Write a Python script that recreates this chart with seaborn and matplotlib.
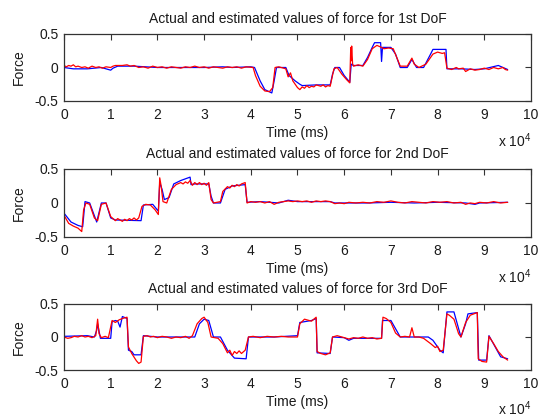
import matplotlib
matplotlib.use("Agg")
import matplotlib.pyplot as plt
import seaborn as sns

# (time in units of 10^4 ms, force) samples for each degree of freedom
dof1_actual = [(0, 0.0), (0.2, -0.02), (0.5, -0.02), (0.8, 0.0), (0.95, -0.03), (1.0, -0.04),
               (1.05, -0.01), (1.15, 0.02), (1.5, 0.02), (2.0, 0.0), (2.5, 0.0), (3.0, 0.0),
               (3.4, 0.01), (3.6, 0.0), (4.0, 0.01), (4.08, 0.0), (4.2, -0.2), (4.3, -0.33),
               (4.45, -0.38), (4.5, -0.2), (4.55, 0.0), (4.75, 0.0), (4.82, -0.12), (4.95, -0.2),
               (5.05, -0.25), (5.1, -0.27), (5.4, -0.26), (5.7, -0.26), (5.75, -0.1), (5.8, 0.0),
               (5.9, 0.0), (6.0, -0.12), (6.12, -0.22), (6.15, 0.05), (6.2, 0.03), (6.4, 0.03),
               (6.5, 0.15), (6.6, 0.3), (6.65, 0.37), (6.78, 0.37), (6.8, 0.09), (6.82, 0.3),
               (6.88, 0.3), (7.0, 0.3), (7.1, 0.2), (7.2, 0.0), (7.35, 0.0), (7.45, 0.12),
               (7.55, 0.0), (7.7, 0.0), (7.85, 0.2), (7.9, 0.27), (8.18, 0.27), (8.2, -0.02),
               (8.5, -0.02), (8.8, -0.03), (9.0, -0.02), (9.3, 0.03), (9.4, 0.0), (9.5, -0.03)]
dof1_estimated = [(0, 0.03), (0.05, 0.01), (0.1, 0.03), (0.15, 0.02), (0.2, 0.04), (0.25, 0.01),
                  (0.3, 0.02), (0.38, 0.0), (0.45, 0.01), (0.52, -0.01), (0.6, 0.02), (0.68, 0.0),
                  (0.75, 0.01), (0.82, -0.01), (0.9, 0.01), (1.0, 0.0), (1.05, 0.02), (1.1, 0.03),
                  (1.25, 0.03), (1.35, 0.04), (1.42, 0.02), (1.5, 0.03), (1.6, 0.0), (1.7, 0.01),
                  (1.8, -0.01), (1.9, 0.02), (2.0, 0.0), (2.1, 0.01), (2.2, -0.01), (2.3, 0.01),
                  (2.4, 0.0), (2.5, -0.01), (2.6, 0.01), (2.7, 0.0), (2.8, 0.02), (2.9, 0.0),
                  (3.0, 0.01), (3.1, -0.01), (3.2, 0.01), (3.3, 0.0), (3.4, -0.01), (3.5, 0.01),
                  (3.6, 0.0), (3.7, 0.01), (3.8, -0.01), (3.9, 0.01), (4.05, 0.0), (4.1, -0.12),
                  (4.2, -0.28), (4.3, -0.35), (4.4, -0.36), (4.47, -0.3), (4.52, 0.0), (4.6, 0.01),
                  (4.75, -0.02), (4.8, -0.14), (4.85, -0.08), (4.9, -0.2), (5.0, -0.3), (5.05, -0.33),
                  (5.1, -0.29), (5.15, -0.31), (5.2, -0.27), (5.25, -0.3), (5.3, -0.28), (5.35, -0.29),
                  (5.4, -0.26), (5.5, -0.28), (5.55, -0.26), (5.6, -0.29), (5.65, -0.27), (5.7, -0.28),
                  (5.78, -0.02), (5.85, 0.0), (5.95, -0.1), (6.05, -0.18), (6.12, -0.23), (6.14, 0.3),
                  (6.15, 0.1), (6.16, 0.32), (6.18, 0.05), (6.2, 0.02), (6.3, 0.04), (6.4, 0.02),
                  (6.5, 0.12), (6.6, 0.28), (6.7, 0.33), (6.8, 0.3), (6.85, 0.28), (6.95, 0.29),
                  (7.05, 0.28), (7.2, 0.02), (7.35, 0.02), (7.45, 0.14), (7.5, 0.05), (7.6, 0.0),
                  (7.75, 0.05), (7.9, 0.2), (8.0, 0.23), (8.1, 0.21), (8.15, 0.22), (8.2, -0.01),
                  (8.3, -0.03), (8.4, 0.0), (8.45, -0.02), (8.55, -0.01), (8.6, -0.06), (8.7, -0.02),
                  (8.8, -0.04), (8.9, -0.03), (9.0, -0.01), (9.1, -0.03), (9.2, 0.0), (9.3, -0.02),
                  (9.4, 0.0), (9.45, -0.03), (9.5, -0.04)]

dof2_actual = [(0, -0.15), (0.15, -0.28), (0.3, -0.33), (0.4, -0.35), (0.45, 0.02), (0.55, 0.0),
               (0.7, -0.28), (0.8, 0.0), (0.9, 0.0), (1.0, -0.22), (1.1, -0.25), (1.65, -0.26),
               (1.7, -0.03), (1.9, -0.02), (2.02, -0.12), (2.05, 0.3), (2.1, 0.2), (2.15, 0.05),
               (2.25, 0.08), (2.35, 0.28), (2.5, 0.33), (2.7, 0.38), (2.72, 0.27), (2.8, 0.28),
               (3.1, 0.28), (3.15, 0.1), (3.2, 0.0), (3.35, 0.0), (3.45, 0.2), (3.6, 0.25),
               (3.88, 0.27), (3.92, 0.01), (4.2, 0.02), (4.6, 0.0), (4.8, 0.04), (5.0, 0.02),
               (5.7, 0.02), (5.8, 0.0), (6.5, 0.0), (7.0, 0.01), (7.5, 0.0), (8.0, 0.01),
               (8.6, 0.0), (8.8, -0.02), (8.9, 0.0), (9.5, 0.01)]
dof2_estimated = [(0, -0.18), (0.1, -0.3), (0.2, -0.34), (0.3, -0.37), (0.38, -0.42), (0.42, -0.1),
                  (0.47, 0.0), (0.55, -0.02), (0.65, -0.22), (0.72, -0.26), (0.8, -0.02), (0.9, 0.0),
                  (1.0, -0.2), (1.1, -0.26), (1.15, -0.23), (1.2, -0.25), (1.25, -0.27), (1.3, -0.24),
                  (1.35, -0.26), (1.4, -0.23), (1.45, -0.25), (1.5, -0.22), (1.55, -0.25), (1.6, -0.22),
                  (1.67, -0.05), (1.75, -0.02), (1.85, -0.03), (1.95, -0.1), (2.02, -0.17), (2.05, 0.37),
                  (2.08, 0.25), (2.12, 0.02), (2.2, 0.0), (2.3, 0.2), (2.4, 0.27), (2.5, 0.3),
                  (2.55, 0.28), (2.6, 0.31), (2.65, 0.29), (2.7, 0.33), (2.75, 0.26), (2.8, 0.3),
                  (2.85, 0.27), (2.9, 0.3), (2.95, 0.27), (3.0, 0.29), (3.05, 0.26), (3.1, 0.3),
                  (3.15, 0.05), (3.2, 0.0), (3.35, 0.02), (3.4, 0.17), (3.5, 0.24), (3.55, 0.22),
                  (3.6, 0.26), (3.65, 0.24), (3.7, 0.27), (3.75, 0.25), (3.8, 0.28), (3.88, 0.3),
                  (3.92, 0.0), (4.0, 0.02), (4.1, 0.01), (4.2, 0.02), (4.3, 0.0), (4.4, 0.02),
                  (4.5, -0.02), (4.6, 0.01), (4.7, 0.02), (4.8, 0.03), (4.9, 0.02), (5.0, 0.03),
                  (5.1, 0.02), (5.2, 0.03), (5.3, 0.01), (5.4, 0.03), (5.5, 0.02), (5.6, 0.03),
                  (5.7, 0.02), (5.8, -0.01), (5.9, 0.0), (6.0, -0.01), (6.1, 0.01), (6.25, 0.0),
                  (6.4, 0.01), (6.55, 0.0), (6.7, 0.02), (6.85, 0.01), (7.0, 0.03), (7.15, 0.01),
                  (7.3, 0.0), (7.45, 0.02), (7.6, 0.01), (7.75, 0.0), (7.9, 0.02), (8.05, 0.01),
                  (8.2, 0.02), (8.35, 0.0), (8.5, 0.01), (8.6, -0.02), (8.7, 0.0), (8.8, -0.01),
                  (8.9, 0.01), (9.05, 0.0), (9.2, 0.02), (9.35, 0.0), (9.5, 0.01)]

dof3_actual = [(0, 0.01), (0.5, 0.02), (0.65, 0.0), (0.7, 0.1), (0.72, 0.2), (0.78, -0.02),
               (1.0, -0.02), (1.03, 0.23), (1.1, 0.25), (1.15, 0.24), (1.2, 0.15), (1.25, 0.31),
               (1.35, 0.28), (1.38, -0.2), (1.45, -0.22), (1.5, -0.27), (1.65, -0.27), (1.7, 0.02),
               (2.0, 0.0), (2.5, 0.0), (2.8, 0.0), (2.9, 0.2), (3.0, 0.27), (3.1, 0.25), (3.2, 0.0),
               (3.35, 0.0), (3.5, -0.2), (3.65, -0.32), (3.9, -0.33), (3.95, 0.0), (4.5, 0.0),
               (5.0, 0.02), (5.05, 0.22), (5.3, 0.25), (5.4, 0.28), (5.42, -0.24), (5.7, -0.25),
               (5.75, 0.0), (6.0, -0.01), (6.1, -0.05), (6.2, -0.02), (6.8, -0.02), (6.82, 0.25),
               (7.0, 0.25), (7.2, 0.0), (7.8, 0.0), (7.9, -0.05), (8.05, -0.2), (8.12, -0.24),
               (8.2, 0.38), (8.35, 0.38), (8.5, 0.0), (8.6, 0.2), (8.65, 0.35), (8.85, 0.37),
               (8.88, -0.35), (9.05, -0.35), (9.1, 0.02), (9.35, -0.3), (9.5, -0.33)]
dof3_estimated = [(0, 0.0), (0.08, -0.02), (0.15, -0.01), (0.22, 0.01), (0.3, 0.0), (0.38, 0.02),
                  (0.45, 0.0), (0.52, 0.01), (0.6, -0.01), (0.68, 0.02), (0.72, 0.27), (0.75, 0.05),
                  (0.8, -0.01), (0.88, 0.01), (0.95, -0.01), (1.03, 0.25), (1.1, 0.22), (1.18, 0.26),
                  (1.25, 0.28), (1.35, 0.3), (1.38, -0.15), (1.45, -0.25), (1.55, -0.36), (1.6, -0.4),
                  (1.65, -0.38), (1.7, 0.01), (1.78, 0.02), (1.85, 0.0), (1.92, 0.01), (2.0, -0.01),
                  (2.1, 0.01), (2.2, 0.0), (2.3, -0.02), (2.4, 0.0), (2.5, -0.01), (2.6, 0.01),
                  (2.68, -0.02), (2.75, 0.02), (2.85, 0.2), (2.95, 0.28), (3.0, 0.3), (3.08, 0.22),
                  (3.15, 0.0), (3.3, -0.02), (3.4, -0.1), (3.5, -0.24), (3.55, -0.2), (3.6, -0.28),
                  (3.65, -0.22), (3.7, -0.25), (3.75, -0.21), (3.8, -0.25), (3.88, -0.2), (3.95, 0.0),
                  (4.05, 0.01), (4.2, -0.01), (4.35, 0.01), (4.5, 0.0), (4.65, 0.01), (4.8, 0.0),
                  (5.0, 0.0), (5.05, 0.2), (5.15, 0.27), (5.3, 0.24), (5.4, 0.3), (5.42, -0.22),
                  (5.5, -0.25), (5.6, -0.27), (5.7, -0.24), (5.75, 0.0), (5.85, 0.02), (5.95, 0.0),
                  (6.1, -0.03), (6.2, -0.01), (6.3, -0.02), (6.4, 0.0), (6.5, -0.02), (6.6, -0.01),
                  (6.7, -0.03), (6.8, -0.02), (6.83, 0.3), (6.9, 0.28), (7.0, 0.22), (7.1, 0.06),
                  (7.2, 0.0), (7.3, 0.01), (7.4, 0.0), (7.45, 0.14), (7.5, 0.0), (7.6, 0.0),
                  (7.7, -0.02), (7.85, -0.1), (7.95, -0.16), (8.0, -0.14), (8.05, -0.22), (8.12, -0.2),
                  (8.2, 0.35), (8.25, 0.33), (8.35, 0.27), (8.45, 0.05), (8.5, 0.0), (8.6, 0.22),
                  (8.7, 0.33), (8.85, 0.37), (8.87, -0.33), (8.95, -0.37), (9.05, -0.38), (9.1, 0.01),
                  (9.2, -0.1), (9.3, -0.22), (9.4, -0.3), (9.5, -0.35)]

dof_titles = ["Actual and estimated values of force for 1st DoF",
              "Actual and estimated values of force for 2nd DoF",
              "Actual and estimated values of force for 3rd DoF"]
x_ticks = list(range(0, 11))
y_ticks = [-0.5, 0, 0.5]
y_tick_labels = ["-0.5", "0", "0.5"]

series = [
    (dof1_actual, dof1_estimated),
    (dof2_actual, dof2_estimated),
    (dof3_actual, dof3_estimated),
]

sns.set_style("white")
plt.rcParams["font.family"] = ["Liberation Sans", "DejaVu Sans"]
plt.rcParams["mathtext.fontset"] = "custom"
plt.rcParams["mathtext.rm"] = "Liberation Sans"
plt.rcParams["mathtext.it"] = "Liberation Sans"

fig = plt.figure(figsize=(5.41, 4.17), dpi=100)
fig.patch.set_facecolor("white")

# [left, bottom, width, height] for the three stacked panels
panel_boxes = [
    [0.1183, 0.7578, 0.8632, 0.1607],
    [0.1183, 0.4317, 0.8632, 0.1631],
    [0.1183, 0.1127, 0.8632, 0.1583],
]
text_color = "#1a1a1a"
fs = 10

for box, title, (actual, estimated) in zip(panel_boxes, dof_titles, series):
    ax = fig.add_axes(box)
    ta, fa = zip(*actual)
    te, fe = zip(*estimated)
    sns.lineplot(x=list(ta), y=list(fa), ax=ax, color="#0000ff", linewidth=0.9,
                 estimator=None, sort=False)
    sns.lineplot(x=list(te), y=list(fe), ax=ax, color="#ff0000", linewidth=0.9,
                 estimator=None, sort=False)
    ax.set_xlim(0, 10)
    ax.set_ylim(-0.5, 0.5)
    ax.set_xticks(x_ticks)
    ax.set_xticklabels([str(v) for v in x_ticks])
    ax.set_yticks(y_ticks)
    ax.set_yticklabels(y_tick_labels)
    ax.tick_params(axis="x", direction="in", length=4, width=0.8, top=True,
                   labelsize=fs, colors="#333333", labelcolor=text_color, pad=5)
    ax.tick_params(axis="y", direction="in", length=4, width=0.8, right=True,
                   labelsize=fs, colors="#333333", labelcolor=text_color, pad=4)
    for sp in ax.spines.values():
        sp.set_color("#333333")
        sp.set_linewidth(0.9)
    ax.set_title(title, fontsize=fs, color=text_color, pad=8)
    ax.set_xlabel("Time (ms)", fontsize=fs, color=text_color, labelpad=3)
    ax.set_ylabel("Force", fontsize=fs, color=text_color, labelpad=6)
    ax.text(1.0, -0.45, r"x 10$^{4}$", transform=ax.transAxes, ha="right", va="top",
            fontsize=fs, color=text_color)

fig.savefig("out.png", dpi=100, facecolor="white")
